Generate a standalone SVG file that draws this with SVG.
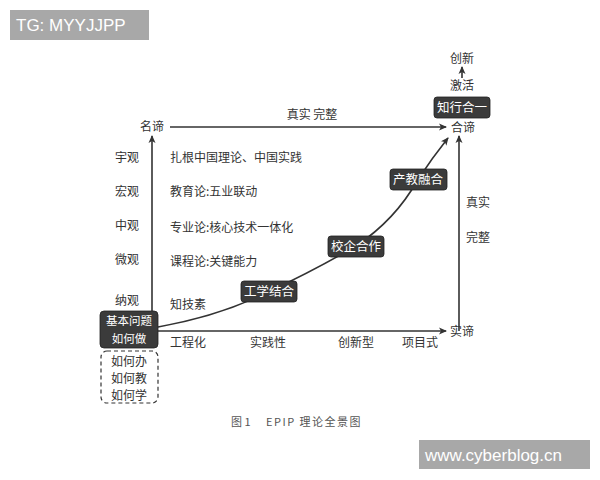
<svg xmlns="http://www.w3.org/2000/svg" width="600" height="480" viewBox="0 0 600 480">
<style>
text{font-family:"Noto Sans CJK SC","Liberation Sans",sans-serif;font-size:12px;fill:#333;}
.c{text-anchor:middle;}
.w{fill:#fff;text-anchor:middle;font-size:12.5px;}
.w2{fill:#fff;text-anchor:middle;font-size:11.5px;}
.box{fill:#3b3b3b;stroke:#222;stroke-width:0.8;}
.ln{stroke:#333;stroke-width:1.6;fill:none;}
.badge{fill:#a8a8a8;}
.bt{font-family:"Liberation Sans","Noto Sans",sans-serif;font-size:17px;fill:#fff;}
.cap{font-size:11px;fill:#555;}
</style>
<defs>
<marker id="ah" markerWidth="8" markerHeight="8" refX="7" refY="4" orient="auto" markerUnits="userSpaceOnUse">
<path d="M0,0.5 L8,4 L0,7.5 L2,4 Z" fill="#333"/>
</marker>
</defs>
<rect width="600" height="480" fill="#fff"/>

<g id="connectors">
<path class="ln" d="M152,331 L152,136" marker-end="url(#ah)"/>
<path class="ln" d="M170,127 L446,127" marker-end="url(#ah)"/>
<path class="ln" d="M158,331 L446,331" marker-end="url(#ah)"/>
<path class="ln" d="M459,331 L459,136" marker-end="url(#ah)"/>
<path class="ln" d="M158,327 Q220,316 268,292 Q315,270 356,246 Q395,220 417,181 Q432,158 448,138" marker-end="url(#ah)"/>
<path class="ln" d="M462,78 L462,67" marker-end="url(#ah)"/>
</g>

<g id="label-mingdi"><text class="c" x="152" y="131">名谛</text></g>
<g id="label-hedi"><text x="451" y="132">合谛</text></g>
<g id="label-shidi"><text x="450" y="336">实谛</text></g>
<g id="label-top"><text class="c" x="312" y="119">真实 完整</text></g>
<g id="label-right"><text class="c" x="478" y="207">真实</text><text class="c" x="478" y="242">完整</text></g>
<g id="label-chuangxin"><text class="c" x="462" y="63">创新</text></g>
<g id="label-jihuo"><text class="c" x="462" y="90">激活</text></g>

<g id="node-zhixing"><rect class="box" x="434" y="97" width="56" height="21" rx="3"/><text class="w" x="462" y="112">知行合一</text></g>

<g id="scale">
<text class="c" x="127" y="162">宇观</text>
<text class="c" x="127" y="196">宏观</text>
<text class="c" x="127" y="230">中观</text>
<text class="c" x="127" y="264">微观</text>
<text class="c" x="127" y="305">纳观</text>
</g>
<g id="theory">
<text x="170" y="162">扎根中国理论、中国实践</text>
<text x="170" y="196">教育论:五业联动</text>
<text x="170" y="232">专业论:核心技术一体化</text>
<text x="170" y="266">课程论:关键能力</text>
<text x="170" y="309">知技素</text>
</g>
<g id="axis-labels">
<text class="c" x="188" y="347">工程化</text>
<text class="c" x="268" y="347">实践性</text>
<text class="c" x="356" y="347">创新型</text>
<text class="c" x="420" y="347">项目式</text>
</g>

<g id="node-jiben"><rect class="box" x="100" y="311" width="58" height="37" rx="4"/><text class="w2" x="129" y="325">基本问题</text><text class="w2" x="129" y="343">如何做</text></g>
<g id="node-ruhe"><rect x="101" y="351" width="57" height="52" rx="6" fill="none" stroke="#333" stroke-width="1.2" stroke-dasharray="4,3"/>
<text class="c" x="129" y="366">如何办</text><text class="c" x="129" y="383">如何教</text><text class="c" x="129" y="400">如何学</text></g>

<g id="node-gongxue"><rect class="box" x="241" y="281" width="56" height="21" rx="3"/><text class="w" x="269" y="296">工学结合</text></g>
<g id="node-xiaoqi"><rect class="box" x="328" y="236" width="56" height="21" rx="3"/><text class="w" x="356" y="251">校企合作</text></g>
<g id="node-chanjiao"><rect class="box" x="390" y="169" width="57" height="21" rx="3"/><text class="w" x="418" y="184">产教融合</text></g>

<g id="caption"><text class="cap" x="231" y="426">图 1</text><text class="cap" x="266" y="426" style="letter-spacing:1.5px">EPIP 理论全景图</text></g>

<g id="badge-tg"><rect class="badge" x="10" y="10" width="139" height="30"/><text class="bt" x="16" y="31">TG: MYYJJPP</text></g>
<g id="badge-web"><rect class="badge" x="419" y="440" width="171" height="29"/><text class="bt" x="425" y="461">www.cyberblog.cn</text></g>
</svg>
